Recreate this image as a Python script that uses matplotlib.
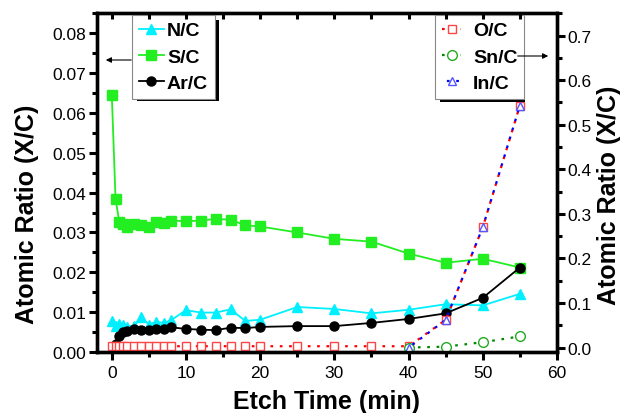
import matplotlib
matplotlib.use('Agg')
import matplotlib.pyplot as plt
from matplotlib.patches import Rectangle
from matplotlib.ticker import MultipleLocator, FormatStrFormatter

plt.rcParams['font.family'] = ['Liberation Sans', 'DejaVu Sans']

# etch times (min)
t = [0, 0.5, 1, 1.5, 2, 3, 4, 5, 6, 7, 8, 10, 12, 14, 16, 18, 20, 25, 30, 35, 40, 45, 50, 55]
t_ar = t[1:]
t_late = [40, 45, 50, 55]

# left axis series
n_c = [0.0079, 0.0066, 0.0070, 0.0068, 0.0064, 0.0066, 0.0087, 0.0069, 0.0076, 0.0073, 0.0080,
       0.0105, 0.0099, 0.0099, 0.0107, 0.0078, 0.0081, 0.0113, 0.0108, 0.0097, 0.0106, 0.0120,
       0.0117, 0.0146]
s_c = [0.0645, 0.0385, 0.0327, 0.0322, 0.0313, 0.0320, 0.0318, 0.0314, 0.0327, 0.0324, 0.0330,
       0.0328, 0.0330, 0.0334, 0.0332, 0.0318, 0.0315, 0.0300, 0.0284, 0.0277, 0.0247, 0.0224,
       0.0234, 0.0212]
ar_c = [0.0020, 0.0040, 0.0050, 0.0053, 0.0057, 0.0056, 0.0056, 0.0057, 0.0059, 0.0062,
        0.0058, 0.0056, 0.0055, 0.0061, 0.0060, 0.0063, 0.0065, 0.0065, 0.0073, 0.0083,
        0.0097, 0.0136, 0.0212]

# right axis series
o_c = [0.003] * 21 + [0.062, 0.27, 0.543]
sn_c = [0.0, 0.002, 0.012, 0.025]
in_c = [0.0, 0.062, 0.27, 0.543]

fig = plt.figure(figsize=(6.24, 4.14), dpi=100)
ax = fig.add_axes([0.1554, 0.1473, 0.7372, 0.8182])
ax2 = ax.twinx()

l1, = ax.plot(t, n_c, '-', color='#00F0FF', marker='^', ms=7, lw=1.3, label='N/C')
l2, = ax.plot(t, s_c, '-', color='#22EE22', marker='s', ms=6.5, lw=1.3, label='S/C')
l3, = ax.plot(t_ar, ar_c, '-', color='black', marker='o', ms=6.5, lw=1.3, label='Ar/C')

dot = (0, (1.2, 3))
r1, = ax2.plot(t, o_c, linestyle=dot, color='red', marker='s', ms=6, mfc='white',
               mec='#FF4444', lw=1.6, label='O/C')
r2, = ax2.plot(t_late, sn_c, linestyle=dot, color='#008800', marker='o', ms=7, mfc='white',
               mec='#22AA22', lw=1.6, label='Sn/C')
r3, = ax2.plot(t_late, in_c, linestyle=(2, (1.2, 3)), color='blue', marker='^', ms=6,
               mfc='white', mec='#5555FF', lw=1.6, label='In/C')

ax.set_xlim(-2, 60)
ax.set_ylim(0, 0.085)
ax2.set_ylim(-0.01, 0.75)

for a in (ax, ax2):
    for s in a.spines.values():
        s.set_linewidth(2.4)

ax.xaxis.set_major_locator(MultipleLocator(10))
ax.xaxis.set_minor_locator(MultipleLocator(5))
ax.yaxis.set_major_locator(MultipleLocator(0.01))
ax.yaxis.set_minor_locator(MultipleLocator(0.005))
ax.yaxis.set_major_formatter(FormatStrFormatter('%.2f'))
ax2.yaxis.set_major_locator(MultipleLocator(0.1))
ax2.yaxis.set_minor_locator(MultipleLocator(0.05))
ax2.yaxis.set_major_formatter(FormatStrFormatter('%.1f'))

ax.tick_params(axis='both', which='major', direction='out', length=6, width=2.2,
               labelsize=12.5, pad=1.5)
ax.tick_params(axis='both', which='minor', direction='out', length=3.5, width=2.2)
ax.tick_params(axis='x', pad=3)
ax2.tick_params(axis='y', which='major', direction='out', length=6, width=2.2,
                labelsize=12.5, pad=1.5)
ax2.tick_params(axis='y', which='minor', direction='out', length=3.5, width=2.2)

# top ticks pointing inward, drawn as a plain tick row
for xt in range(0, 61, 5):
    ax2.plot([xt, xt], [1.0, 0.982], color='black', lw=2.2, solid_capstyle='butt',
             transform=ax2.get_xaxis_transform(), clip_on=False, zorder=6)

ax.set_xlabel('Etch Time (min)', fontsize=18, fontweight='bold', va='center')
ax.xaxis.set_label_coords(0.5, -0.145)
ax.set_ylabel('Atomic Ratio (X/C)', fontsize=18, fontweight='bold', va='center')
ax.yaxis.set_label_coords(-0.152, 0.41)
ax2.set_ylabel('Atomic Ratio (X/C)', fontsize=18, fontweight='bold', va='center')
ax2.yaxis.set_label_coords(1.113, 0.466)

# legend shadows (black, offset down-right)
ax2.add_patch(Rectangle((0.0760 + 0.011, 0.755 - 0.015), 0.178, 0.24,
                        transform=ax2.transAxes, facecolor='black', edgecolor='none',
                        zorder=4.5, clip_on=False))
ax2.add_patch(Rectangle((0.735 + 0.011, 0.752 - 0.015), 0.185, 0.243,
                        transform=ax2.transAxes, facecolor='black', edgecolor='none',
                        zorder=4.5, clip_on=False))

leg_kw = dict(fancybox=False, framealpha=1, edgecolor='#888888', borderaxespad=0,
              prop={'size': 14, 'weight': 'bold'}, labelspacing=0.45, borderpad=0.35)
leg1 = ax2.legend(handles=[l1, l2, l3], loc='upper left', bbox_to_anchor=(0.076, 0.995),
                  handlelength=1.3, handletextpad=0.15, **leg_kw)
leg1.get_frame().set_linewidth(0.8)
ax2.add_artist(leg1)
leg2 = ax2.legend(handles=[r1, r2, r3], loc='upper left', bbox_to_anchor=(0.735, 0.995),
                  handlelength=1.0, handletextpad=0.6, **leg_kw)
leg2.get_frame().set_linewidth(0.8)

# arrows from legends to their axes
ax2.annotate('', xy=(103 / 624, 1 - 61 / 414), xycoords='figure fraction',
             xytext=(134 / 624, 1 - 61 / 414), textcoords='figure fraction',
             arrowprops=dict(arrowstyle='-|>', color='black', lw=0.8, mutation_scale=8),
             zorder=10)
ax2.annotate('', xy=(551 / 624, 1 - 57 / 414), xycoords='figure fraction',
             xytext=(515 / 624, 1 - 57 / 414), textcoords='figure fraction',
             arrowprops=dict(arrowstyle='-|>', color='black', lw=0.8, mutation_scale=8),
             zorder=10)

fig.savefig('out.png', dpi=100)
